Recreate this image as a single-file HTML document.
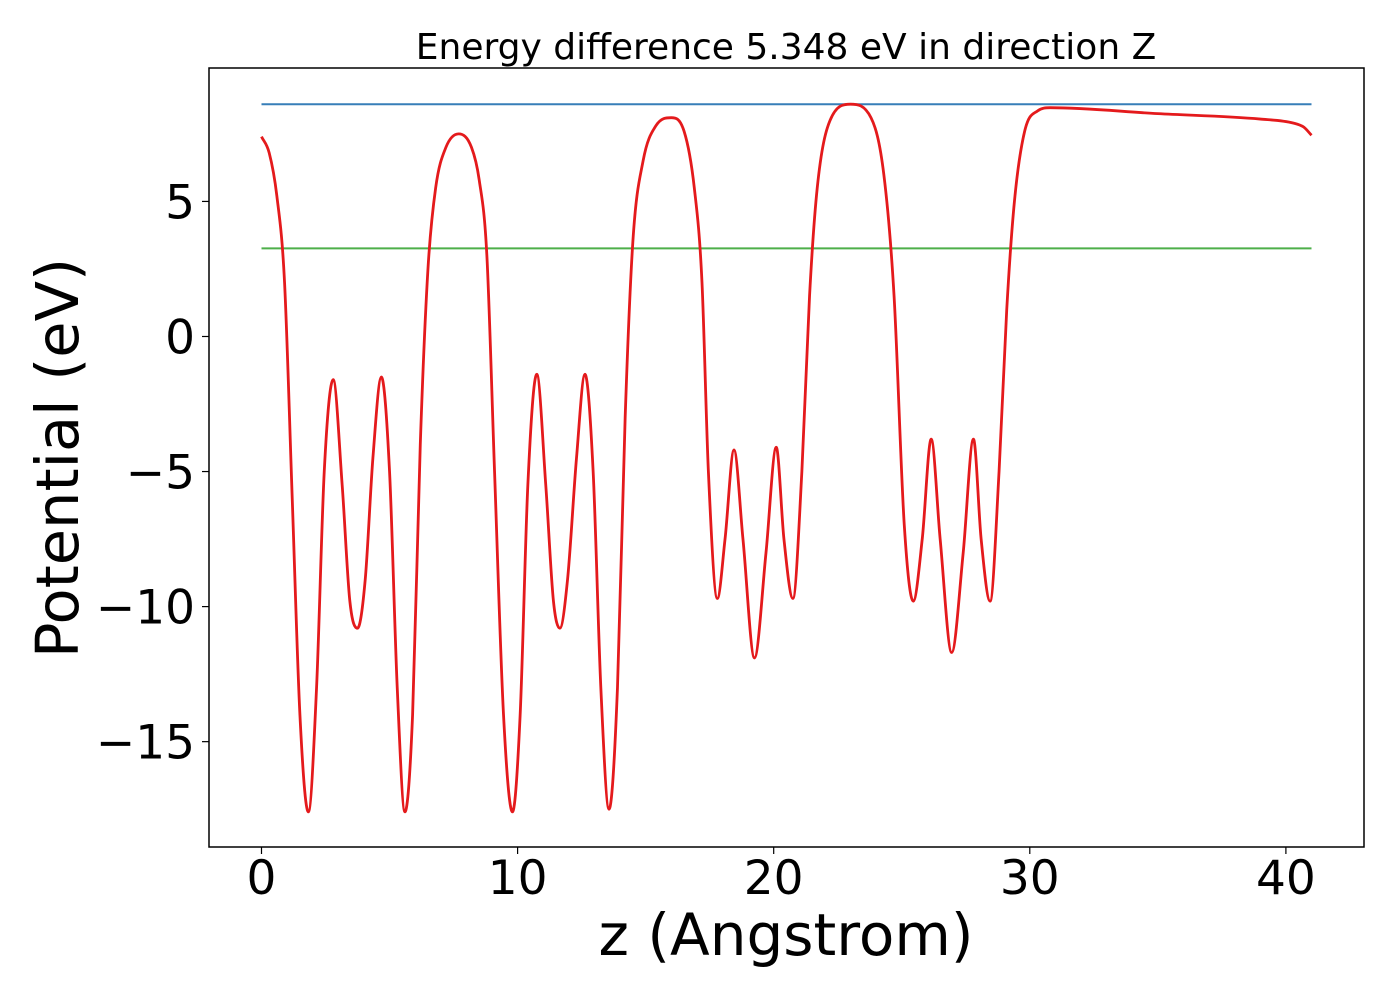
<!DOCTYPE html>
<html><head><meta charset="utf-8"><style>
body{margin:0;background:#fff;}
svg text{font-family:"DejaVu Sans","Liberation Sans",sans-serif;fill:#000;}
</style></head><body>
<svg id="chart" width="1400" height="1000" xmlns="http://www.w3.org/2000/svg">
<rect width="1400" height="1000" fill="#fff"/>
<text x="786" y="59" font-size="36" text-anchor="middle">Energy difference 5.348 eV in direction Z</text>
<g id="plot"></g>
<rect x="209" y="68" width="1155" height="779" fill="none" stroke="#000" stroke-width="1.5"/>
<g id="axes"></g>
<text x="786" y="955" font-size="58" text-anchor="middle">z (Angstrom)</text>
<text transform="translate(78,458) rotate(-90)" font-size="59" text-anchor="middle">Potential (eV)</text>
</svg>
<script>
const xTicks=[0,10,20,30,40];
const yTicks=[5,0,-5,-10,-15];
const vacuumLevel=8.6;
const fermiLevel=3.26;
const potZ=[0,0.3,0.6,0.9,1.2,1.5,1.83,2.15,2.45,2.8,3.15,3.45,3.75,4.05,4.35,4.68,5.0,5.3,5.6,5.9,6.2,6.5,6.8,7.2,7.7,8.2,8.5,8.8,9.1,9.45,9.8,10.1,10.4,10.75,11.1,11.4,11.65,11.95,12.3,12.63,12.95,13.25,13.57,13.9,14.2,14.5,14.9,15.4,16.0,16.5,16.9,17.2,17.45,17.8,18.1,18.45,18.8,19.25,19.7,20.1,20.4,20.75,21.1,21.4,21.7,22.2,23.0,23.8,24.3,24.7,25.1,25.45,25.8,26.15,26.5,26.95,27.4,27.8,28.1,28.45,28.8,29.1,29.4,29.8,30.3,30.8,35,39,40.3,40.7,41];
const potV=[7.4,6.8,5.2,2,-6,-14,-17.6,-13,-5,-1.6,-5.5,-9.8,-10.8,-9,-4.5,-1.5,-5,-13,-17.6,-14,-4,2.5,5.5,7.0,7.5,7.0,5.8,3,-5,-14,-17.6,-14,-5.5,-1.4,-5.5,-9.8,-10.8,-9,-4.5,-1.4,-5,-13,-17.5,-13,-3,3.5,6.5,7.8,8.1,7.6,5.5,2,-5,-9.7,-7.5,-4.2,-7.5,-11.9,-8,-4.1,-7.5,-9.7,-5,1.5,5.5,8.0,8.6,8.1,6,1.5,-7,-9.8,-7.5,-3.8,-7.5,-11.7,-8,-3.8,-7.5,-9.8,-5,1,5,7.6,8.35,8.47,8.25,8.05,7.9,7.75,7.45];
const NS="http://www.w3.org/2000/svg";
const X0=-2.05,X1=43.05,Y0=-18.9,Y1=9.94,L=209,R=1364,T=68,B=847;
const sx=v=>L+(v-X0)/(X1-X0)*(R-L);
const sy=v=>B-(v-Y0)/(Y1-Y0)*(B-T);
function mk(tag,attrs,parent){const e=document.createElementNS(NS,tag);for(const k in attrs)e.setAttribute(k,attrs[k]);parent.appendChild(e);return e;}
const plot=document.getElementById('plot'),axes=document.getElementById('axes');
let h1=mk('line',{x1:sx(0),x2:sx(41),y1:sy(vacuumLevel),y2:sy(vacuumLevel),stroke:'#377eb8','stroke-width':2},plot);


let h2=mk('line',{x1:sx(0),x2:sx(41),y1:sy(fermiLevel),y2:sy(fermiLevel),stroke:'#4daf4a','stroke-width':2},plot);


const n=potZ.length,d=[],m=[];
for(let i=0;i<n-1;i++)d.push((potV[i+1]-potV[i])/(potZ[i+1]-potZ[i]));
m[0]=d[0];m[n-1]=d[n-2];
for(let i=1;i<n-1;i++){m[i]=(d[i-1]*d[i]<=0)?0:(d[i-1]+d[i])/2;}
for(let i=0;i<n-1;i++){if(d[i]===0){m[i]=m[i+1]=0;continue;}const a=m[i]/d[i],b=m[i+1]/d[i],s=a*a+b*b;if(s>9){const t=3/Math.sqrt(s);m[i]=t*a*d[i];m[i+1]=t*b*d[i];}}
let p='M'+sx(potZ[0])+','+sy(potV[0]);
for(let i=0;i<n-1;i++){const h=potZ[i+1]-potZ[i];p+=' C'+sx(potZ[i]+h/3)+','+sy(potV[i]+m[i]*h/3)+' '+sx(potZ[i+1]-h/3)+','+sy(potV[i+1]-m[i+1]*h/3)+' '+sx(potZ[i+1])+','+sy(potV[i+1]);}
let c=mk('path',{d:p,fill:'none',stroke:'#e41a1c','stroke-width':2.8},plot);


xTicks.forEach(t=>{const x=sx(t);
 let l=mk('line',{x1:x,x2:x,y1:B,y2:B+7,stroke:'#000','stroke-width':1.2},axes);
 
 
 let tx=mk('text',{x:x,y:B+47,'font-size':47,'text-anchor':'middle'},axes);tx.textContent=String(t);
 
 });
yTicks.forEach(t=>{const y=sy(t);
 let l=mk('line',{x1:L-7,x2:L,y1:y,y2:y,stroke:'#000','stroke-width':1.2},axes);
 
 
 let tx=mk('text',{x:L-14,y:y+17,'font-size':47,'text-anchor':'end'},axes);tx.textContent=(t<0?'\u2212'+(-t):String(t));
 
 });
</script>
</body></html>
